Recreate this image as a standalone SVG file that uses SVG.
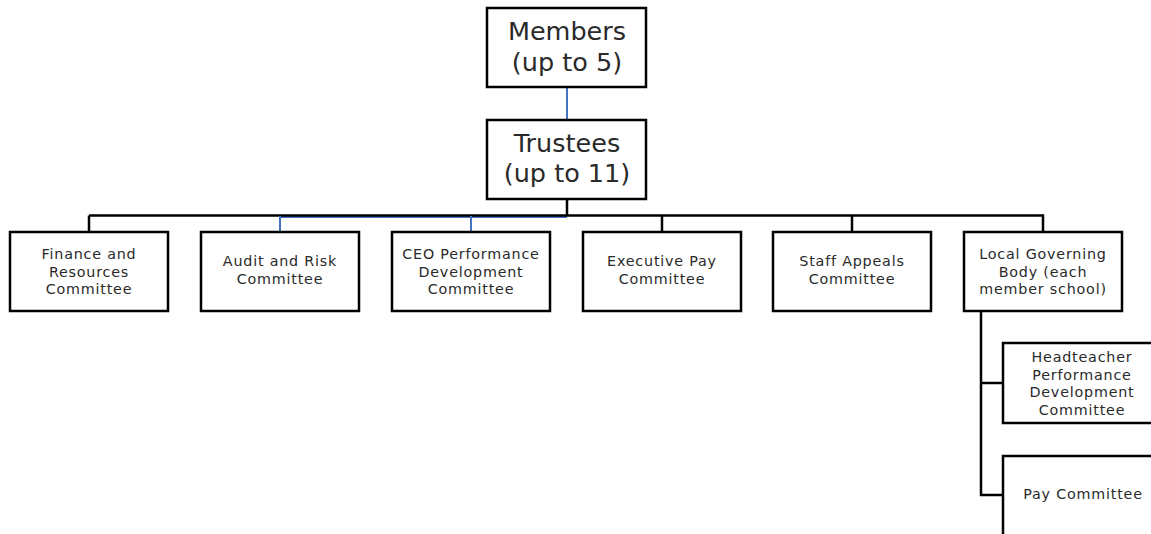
<svg xmlns="http://www.w3.org/2000/svg" width="1151" height="534" viewBox="0 0 1151 534">
<style>
.box{fill:#fff;stroke:#000;stroke-width:2.5}
.ln{fill:none;stroke:#000;stroke-width:2.5}
.bl{fill:none;stroke:#4472C4;stroke-width:2}
.t{font-family:"DejaVu Sans","Liberation Sans",sans-serif;font-size:14.3px;fill:#2a2a2a;text-anchor:middle;letter-spacing:0.8px}
.big{font-family:"DejaVu Sans","Liberation Sans",sans-serif;font-size:25.5px;fill:#2a2a2a;text-anchor:middle}
</style>
<rect width="1151" height="534" fill="#fff"/>
<g id="connectors">
<line class="bl" x1="567" y1="87" x2="567" y2="120"/>
<line class="ln" x1="567" y1="199" x2="567" y2="216"/>
<line class="bl" x1="280" y1="217" x2="567" y2="217"/>
<line class="ln" x1="89" y1="215.5" x2="1043" y2="215.5"/>
<polyline class="ln" points="89,215.5 89,232"/>
<line class="bl" x1="280" y1="216" x2="280" y2="232"/>
<line class="bl" x1="471" y1="216" x2="471" y2="232"/>
<line class="ln" x1="662" y1="215.5" x2="662" y2="232"/>
<line class="ln" x1="852" y1="215.5" x2="852" y2="232"/>
<line class="ln" x1="1043" y1="214.3" x2="1043" y2="232"/>
<polyline class="ln" points="981,311 981,495 1003,495"/>
<line class="ln" x1="981" y1="383" x2="1003" y2="383"/>
</g>
<g id="members">
<rect class="box" x="487" y="8" width="159" height="79"/>
<text class="big" x="567" y="40">Members</text>
<text class="big" x="567" y="71">(up to 5)</text>
</g>
<g id="trustees">
<rect class="box" x="487" y="120" width="159" height="79"/>
<text class="big" x="567" y="152">Trustees</text>
<text class="big" x="567" y="182">(up to 11)</text>
</g>
<g id="finance">
<rect class="box" x="10" y="232" width="158" height="79"/>
<text class="t" x="89" y="259">Finance and</text>
<text class="t" x="89" y="276.5">Resources</text>
<text class="t" x="89" y="294">Committee</text>
</g>
<g id="audit">
<rect class="box" x="201" y="232" width="158" height="79"/>
<text class="t" x="280" y="266">Audit and Risk</text>
<text class="t" x="280" y="284">Committee</text>
</g>
<g id="ceo">
<rect class="box" x="392" y="232" width="158" height="79"/>
<text class="t" x="471" y="259">CEO Performance</text>
<text class="t" x="471" y="276.5">Development</text>
<text class="t" x="471" y="294">Committee</text>
</g>
<g id="executive">
<rect class="box" x="583" y="232" width="158" height="79"/>
<text class="t" x="662" y="266">Executive Pay</text>
<text class="t" x="662" y="284">Committee</text>
</g>
<g id="staff">
<rect class="box" x="773" y="232" width="158" height="79"/>
<text class="t" x="852" y="266">Staff Appeals</text>
<text class="t" x="852" y="284">Committee</text>
</g>
<g id="lgb">
<rect class="box" x="964" y="232" width="158" height="79"/>
<text class="t" x="1043" y="259">Local Governing</text>
<text class="t" x="1043" y="276.5">Body (each</text>
<text class="t" x="1043" y="294">member school)</text>
</g>
<g id="headteacher">
<rect class="box" x="1003" y="343" width="158" height="80"/>
<text class="t" x="1082" y="362">Headteacher</text>
<text class="t" x="1082" y="379.5">Performance</text>
<text class="t" x="1082" y="397">Development</text>
<text class="t" x="1082" y="414.5">Committee</text>
</g>
<g id="pay">
<rect class="box" x="1003" y="456" width="158" height="80"/>
<text class="t" x="1083" y="499">Pay Committee</text>
</g>
</svg>
